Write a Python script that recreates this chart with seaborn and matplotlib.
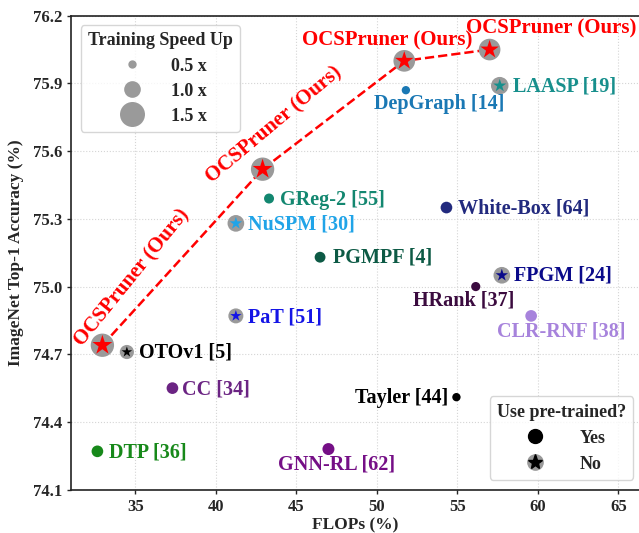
import numpy as np
import pandas as pd
import seaborn as sns
from matplotlib import pyplot as plt
from matplotlib.lines import Line2D


# values
methods = ['OCSPruner1', 'OCSPruner2', 'OCSPruner3', 'OCSPruner4',
           'DepGraph [14]', 'LAASP [19]', 'GReg-2 [55]', 'NuSPM [30]', 'PGMPF [4]',
           'PaT [51]', 'OTOv1 [5]', 'CC [34]', 'White-Box [64]', 'FPGM [24]',
           'HRank [37]', 'CLR-RNF [38]', 'Tayler [44]', 'DTP [36]', 'GNN-RL [62]']
flops = [32.95, 42.9, 51.7, 57.0,
         51.8, 57.63, 43.3, 41.24, 46.47,
         41.24, 34.47, 37.3, 54.32, 57.76,
         56.14, 59.58, 54.94, 32.64, 46.99]
acc = [74.74, 75.52, 76.0, 76.05,
       75.87, 75.89, 75.39, 75.28, 75.13,
       74.87, 74.71, 74.55, 75.35, 75.05,
       75.0, 74.87, 74.51, 74.27, 74.28]
speedup = [1.4, 1.4, 1.3, 1.3,
           0.5, 1.05, 0.6, 1.0, 0.65,
           0.9, 0.85, 0.7, 0.7, 1.0,
           0.55, 0.7, 0.5, 0.7, 0.72]
pretrained = ['No', 'No', 'No', 'No',
              'Yes', 'No', 'Yes', 'No', 'Yes',
              'No', 'No', 'Yes', 'Yes', 'No',
              'Yes', 'Yes', 'Yes', 'Yes', 'Yes']
colors = ['#ff0000', '#ff0000', '#ff0000', '#ff0000',
          '#1a78b4', '#178f8c', '#138770', '#20a4e8', '#0d5a45',
          '#1414e6', '#000000', '#6b2483', '#222a7e', '#0a0a8a',
          '#3b0b3f', '#a783dc', '#000000', '#17891a', '#750f86']

legend_speeds = [0.5, 1.0, 1.5]

df = pd.DataFrame({'method': methods, 'flops': flops, 'acc': acc,
                   'speedup': speedup, 'pretrained': pretrained, 'color': colors})
df['area'] = 144 * df['speedup'] ** 2
df['ours'] = df['method'].str.startswith('OCSPruner')

# label placement (data coords, alignment)
label_pos = {
    'DepGraph [14]': (53.87, 75.81, 'center'),
    'LAASP [19]': (58.45, 75.885, 'left'),
    'GReg-2 [55]': (44.0, 75.385, 'left'),
    'NuSPM [30]': (42.0, 75.275, 'left'),
    'PGMPF [4]': (47.25, 75.13, 'left'),
    'PaT [51]': (42.0, 74.865, 'left'),
    'OTOv1 [5]': (35.2, 74.71, 'left'),
    'CC [34]': (37.9, 74.545, 'left'),
    'White-Box [64]': (55.05, 75.345, 'left'),
    'FPGM [24]': (58.5, 75.05, 'left'),
    'HRank [37]': (55.42, 74.94, 'center'),
    'CLR-RNF [38]': (61.47, 74.80, 'center'),
    'Tayler [44]': (54.42, 74.505, 'right'),
    'DTP [36]': (33.38, 74.265, 'left'),
    'GNN-RL [62]': (47.47, 74.21, 'center'),
}
ours_pos = [(34.8, 75.04, 51), (43.6, 75.716, 40), (50.62, 76.09, 0), (60.85, 76.145, 0)]


sns.set_style("white")
plt.rcParams['font.family'] = ['Liberation Serif', 'DejaVu Serif']
plt.rcParams['font.weight'] = 'bold'
plt.rcParams['axes.labelweight'] = 'bold'

fig = plt.figure(figsize=(6.39, 5.33), dpi=100)
ax = fig.add_axes([71 / 639, (533 - 489.7) / 533, 568 / 639, 474 / 533])

yes = df[df['pretrained'] == 'Yes']
no = df[df['pretrained'] == 'No']
sizes_map = {v: v for v in df['area'].unique()}

# dashed line through our results
ours = df[df['ours']]
sns.lineplot(data=ours, x='flops', y='acc', ax=ax, color='red', linestyle='--',
             linewidth=1.8, sort=False, legend=False, zorder=2)

# pre-trained methods: coloured dots
sns.scatterplot(data=yes, x='flops', y='acc', size='area', sizes=sizes_map,
                hue='method', palette=dict(zip(yes['method'], yes['color'])),
                ax=ax, legend=False, linewidth=0, zorder=3)

# from-scratch methods: grey disc with a coloured star
sns.scatterplot(data=no, x='flops', y='acc', size='area', sizes=sizes_map,
                color='#9a9a9a', ax=ax, legend=False, linewidth=0, zorder=3)
star_s = np.where(no['ours'], 0.8, 0.62) * no['area']
ax.scatter(no['flops'], no['acc'], s=star_s, marker='*', c=no['color'],
           linewidths=0, zorder=4)

for name, (x, y, ha) in label_pos.items():
    c = df.loc[df['method'] == name, 'color'].iloc[0]
    ax.text(x, y, name, color=c, fontsize=14.5, fontweight='bold', ha=ha, va='center')

for x, y, rot in ours_pos:
    ax.text(x, y, 'OCSPruner (Ours)', color='red', fontsize=15, fontweight='bold',
            ha='center', va='center', rotation=rot, rotation_mode='anchor')

ax.set_xlim(31, 31 + 568 / 16.1)
ax.set_ylim(74.1, 76.2)
ax.set_xticks([35, 40, 45, 50, 55, 60, 65])
ax.set_yticks([74.1, 74.4, 74.7, 75.0, 75.3, 75.6, 75.9, 76.2])
ax.set_yticklabels(['74.1', '74.4', '74.7', '75.0', '75.3', '75.6', '75.9', '76.2'])
ax.tick_params(axis='both', labelsize=12, bottom=True, left=True, length=3, width=1)
ax.grid(True, linestyle=':', color='#d5d5d5', linewidth=0.8)
ax.set_xlabel('FLOPs (%)', fontsize=12.5, fontweight='bold', labelpad=2)
ax.set_ylabel('ImageNet Top-1 Accuracy (%)', fontsize=12.5, fontweight='bold', labelpad=6)
for sp in ['left', 'bottom', 'top']:
    ax.spines[sp].set_color('#222222')
    ax.spines[sp].set_linewidth(1.2)
ax.spines['right'].set_visible(False)

# legend: training speed up
speed_handles = [Line2D([], [], marker='o', linestyle='none', color='#9a9a9a',
                        markeredgewidth=0, markersize=12 * v) for v in legend_speeds]
leg1 = ax.legend(speed_handles, ['%.1f x' % v for v in legend_speeds],
                 title='Training Speed Up', loc='upper left',
                 bbox_to_anchor=(0.017, 0.98), borderaxespad=0,
                 prop={'size': 13, 'weight': 'bold'}, labelspacing=0.45,
                 handletextpad=1.2, title_fontproperties={'size': 13, 'weight': 'bold'})
ax.add_artist(leg1)

# legend: use pre-trained
yes_h = Line2D([], [], marker='o', linestyle='none', color='black', markersize=10)
no_bg = Line2D([], [], marker='o', linestyle='none', color='#9a9a9a', markersize=11)
no_star = Line2D([], [], marker='*', linestyle='none', color='black', markersize=11)
ax.legend([yes_h, (no_bg, no_star)], ['Yes', 'No'], title='Use pre-trained?',
          loc='lower right', bbox_to_anchor=(0.99, 0.0205), borderaxespad=0,
          prop={'size': 13, 'weight': 'bold'}, labelspacing=0.5, handletextpad=1.5,
          title_fontproperties={'size': 13, 'weight': 'bold'})

plt.savefig('out.png', dpi=100)
